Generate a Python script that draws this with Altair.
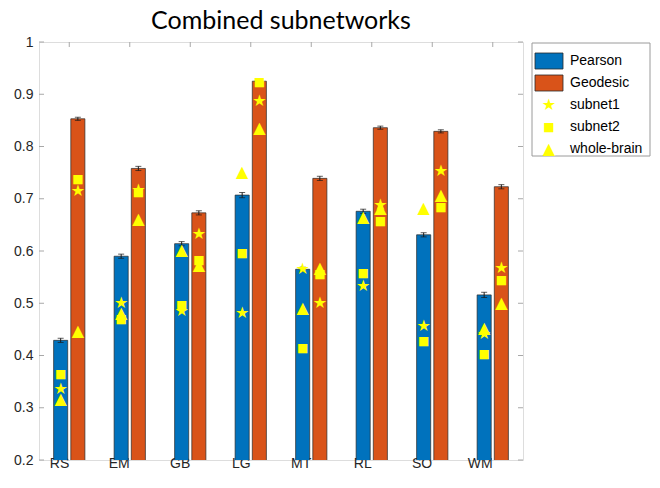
import altair as alt
import pandas as pd

categories = ["RS", "EM", "GB", "LG", "MT", "RL", "SO", "WM"]
methods = ["Pearson", "Geodesic"]

pearson = [0.429, 0.590, 0.614, 0.707, 0.565, 0.676, 0.631, 0.516]
geodesic = [0.853, 0.758, 0.673, 0.925, 0.739, 0.836, 0.829, 0.723]
pearson_err = [0.004, 0.004, 0.004, 0.005, 0.004, 0.004, 0.004, 0.005]
geodesic_err = [0.003, 0.004, 0.004, 0.003, 0.004, 0.003, 0.003, 0.004]

subnet1_pearson = [0.336, 0.501, 0.485, 0.481, 0.565, 0.533, 0.457, 0.441]
subnet1_geodesic = [0.714, 0.716, 0.632, 0.887, 0.500, 0.688, 0.753, 0.568]
subnet2_pearson = [0.364, 0.469, 0.496, 0.596, 0.414, 0.558, 0.428, 0.402]
subnet2_geodesic = [0.737, 0.712, 0.582, 0.923, 0.556, 0.658, 0.684, 0.544]
whole_pearson = [0.317, 0.482, 0.602, 0.752, 0.490, 0.666, 0.682, 0.453]
whole_geodesic = [0.447, 0.662, 0.573, 0.836, 0.568, 0.682, 0.707, 0.501]

y_ticks = [0.2, 0.3, 0.4, 0.5, 0.6, 0.7, 0.8, 0.9, 1.0]

series_names = ["subnet1", "subnet2", "whole-brain"]
legend_labels = ["Pearson", "Geodesic", "subnet1", "subnet2", "whole-brain"]

# ---- styles ----
method_colors = {"Pearson": "#0072BD", "Geodesic": "#D95319"}
marker_glyphs = {"subnet1": "\u2605", "subnet2": "\u25A0", "whole-brain": "\u25B2"}
marker_sizes = {"subnet1": 16, "subnet2": 12, "whole-brain": 16}
marker_color = "#FFFF00"
method_shift = {"Pearson": -8.6, "Geodesic": 8.6}
axis_gray = "#a8a8a8"
W, H = 484, 418

# ---- tables ----
bar_rows = []
for i, c in enumerate(categories):
    for m, vals, errs in (("Pearson", pearson, pearson_err), ("Geodesic", geodesic, geodesic_err)):
        v = vals[i]
        e = errs[i]
        bar_rows.append({"category": c, "method": m, "value": v, "lo": v - e, "hi": v + e})
bars_df = pd.DataFrame(bar_rows)

pt_rows = []
for i, c in enumerate(categories):
    for s, pv, gv in (("subnet1", subnet1_pearson, subnet1_geodesic),
                      ("subnet2", subnet2_pearson, subnet2_geodesic),
                      ("whole-brain", whole_pearson, whole_geodesic)):
        pt_rows.append({"category": c, "method": "Pearson", "series": s, "value": pv[i]})
        pt_rows.append({"category": c, "method": "Geodesic", "series": s, "value": gv[i]})
pts_df = pd.DataFrame(pt_rows)

ticks_df = pd.DataFrame({"t": y_ticks})
cat_df = pd.DataFrame({"category": categories})

x_axis = alt.Axis(title=None, ticks=False, domain=False, labelPadding=3,
                  labelFont="Liberation Sans", labelFontSize=14,
                  labelColor="#262626", labelAngle=0)
x_scale = alt.Scale(domain=categories, paddingInner=0, paddingOuter=0)
xoff = alt.XOffset("method:N", sort=methods,
                   scale=alt.Scale(domain=methods, paddingInner=0.18, paddingOuter=0.85))
y_scale = alt.Scale(domain=[0.2, 1.0], nice=False, zero=False)
y_axis = alt.Axis(title=None, values=y_ticks, format="~g", ticks=False, domain=False,
                  grid=False, labelPadding=6, labelFont="Liberation Sans",
                  labelFontSize=14, labelColor="#262626")

bars = alt.Chart(bars_df).mark_bar(stroke="#2a2a2a", strokeWidth=0.7, clip=True).encode(
    x=alt.X("category:N", sort=categories, scale=x_scale, axis=x_axis), xOffset=xoff,
    y=alt.Y("value:Q", scale=y_scale, axis=y_axis),
    color=alt.Color("method:N", scale=alt.Scale(domain=methods,
                    range=[method_colors[m] for m in methods]), legend=None),
)

err_rule = alt.Chart(bars_df).mark_rule(color="#1a1a1a", strokeWidth=1).encode(
    x=alt.X("category:N", sort=categories), xOffset=xoff,
    y=alt.Y("lo:Q", scale=y_scale), y2="hi:Q",
)

layers = [bars, err_rule]
for m in methods:
    for fld in ("lo", "hi"):
        layers.append(
            alt.Chart(bars_df).transform_filter(alt.datum.method == m)
            .mark_tick(color="#1a1a1a", size=6, thickness=1, xOffset=method_shift[m])
            .encode(x=alt.X("category:N", sort=categories),
                    y=alt.Y(f"{fld}:Q", scale=y_scale))
        )

for m in methods:
    for s in series_names:
        layers.append(
            alt.Chart(pts_df)
            .transform_filter((alt.datum.method == m) & (alt.datum.series == s))
            .mark_text(text=marker_glyphs[s], dx=method_shift[m], font="DejaVu Sans",
                       fontSize=marker_sizes[s], color=marker_color,
                       align="center", baseline="middle")
            .encode(x=alt.X("category:N", sort=categories),
                    y=alt.Y("value:Q", scale=y_scale))
        )

left_ticks = alt.Chart(ticks_df).mark_rule(color=axis_gray).encode(
    y=alt.Y("t:Q", scale=y_scale), x=alt.value(0), x2=alt.value(5))
right_ticks = alt.Chart(ticks_df).mark_rule(color=axis_gray).encode(
    y=alt.Y("t:Q", scale=y_scale), x=alt.value(W), x2=alt.value(W - 5))
top_ticks = alt.Chart(cat_df).mark_rule(color=axis_gray).encode(
    x=alt.X("category:N", sort=categories), y=alt.value(0), y2=alt.value(5))

# ---- legend (drawn beside the plot) ----
one = pd.DataFrame({"k": [0]})
legend_layers = [
    alt.Chart(one).mark_rect(fill="white", stroke="#9a9a9a", strokeWidth=1).encode(
        x=alt.value(493), x2=alt.value(611), y=alt.value(1), y2=alt.value(114))
]
for idx, name in enumerate(legend_labels):
    ry = 19 + 22 * idx
    if name in method_colors:
        legend_layers.append(
            alt.Chart(one).mark_rect(fill=method_colors[name], stroke="#2a2a2a",
                                     strokeWidth=0.8).encode(
                x=alt.value(496), x2=alt.value(524), y=alt.value(ry - 8), y2=alt.value(ry + 8)))
    else:
        legend_layers.append(
            alt.Chart(one).mark_text(text=marker_glyphs[name], font="DejaVu Sans",
                                     fontSize=marker_sizes[name], color=marker_color,
                                     align="center", baseline="middle").encode(
                x=alt.value(510), y=alt.value(ry)))
    legend_layers.append(
        alt.Chart(pd.DataFrame({"label": [name]})).mark_text(
            font="Liberation Sans", fontSize=14, color="#000000",
            align="left", baseline="middle").encode(
            text="label:N", x=alt.value(531), y=alt.value(ry)))

chart = alt.layer(
    left_ticks, right_ticks, top_ticks, *layers, *legend_layers,
).properties(
    width=W, height=H,
    title=alt.TitleParams("Combined subnetworks", font="Lato", fontSize=25,
                          fontWeight="normal", color="#000000", offset=1, anchor="middle"),
    padding={"left": 31, "top": 34, "right": 128, "bottom": 16},
    autosize=alt.AutoSizeParams(type="none"),
).configure_view(stroke=axis_gray, strokeWidth=1.2).configure(background="white")

chart.save("out.html", embed_options={"renderer": "svg", "actions": False})
